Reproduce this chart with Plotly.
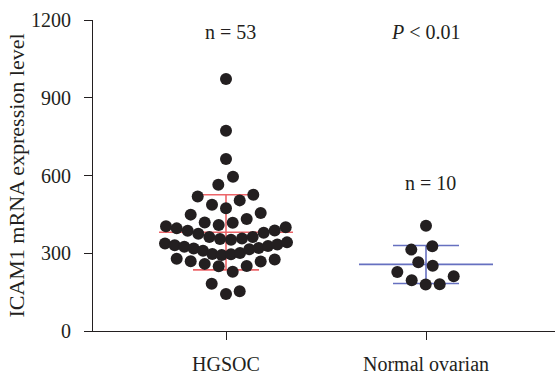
import plotly.graph_objects as go

categories = ["HGSOC", "Normal ovarian"]
hgsoc_values = [972, 773, 664, 595, 564, 519, 526, 487, 474, 504, 449, 455,
                419, 409, 418, 432,
                404, 396, 387, 375, 363, 355, 352, 357, 363, 379, 388, 400,
                338, 331, 325, 318, 310, 297, 293, 296, 301, 315, 320, 328, 334, 342,
                279, 269, 259, 250, 229, 251, 268, 276,
                182, 143, 153]
normal_values = [314, 327, 265, 252, 228, 196, 179, 180, 211, 406]
group_means = [381, 257]
group_upper = [526, 330]
group_lower = [236, 183]
n_labels = ["n = 53", "n = 10"]
p_label = "<i>P</i> < 0.01"
y_ticks = [0, 300, 600, 900, 1200]

# horizontal swarm positions (pixels from group centre, layout only)
hgsoc_dx_px = [0, 0, 0, 7, -7.7, -28.3, 27.3, -14, 0, 13.7, -35.3, 34.7,
               -21.3, -7.3, 6.7, 20.7,
               -60, -49.3, -38.3, -27.7, -16.7, -6, 5, 16, 26.7, 37.7, 48.7, 59.7,
               -61, -51.3, -41.7, -32.3, -23, -13.7, -4.3, 5, 14, 23.3, 32.7, 42, 51.3, 61,
               -49.3, -35.3, -21.3, -7.3, 6.7, 20.7, 34.7, 48.7,
               -14.3, 0, 13.7]
normal_dx_px = [-14.7, 6.3, -7.7, 6.7, -28.7, -14.3, -0.3, 13.7, 27.7, 0]
PX_PER_UNIT = 200.0

dark = "#231f20"
red = "#ec6468"
blue = "#6670c0"
font_family = "Liberation Serif"
FS = 20

fig = go.Figure()

colors = [red, blue]
mean_half = 0.335
cap_half = 0.165
for i in range(2):
    c = colors[i]
    xs = [i - mean_half, i + mean_half, None,
          i - cap_half, i + cap_half, None,
          i - cap_half, i + cap_half, None,
          i, i]
    ys = [group_means[i], group_means[i], None,
          group_upper[i], group_upper[i], None,
          group_lower[i], group_lower[i], None,
          group_lower[i], group_upper[i]]
    fig.add_trace(go.Scatter(x=xs, y=ys, mode="lines",
                             line=dict(color=c, width=1.6),
                             showlegend=False, hoverinfo="skip"))

fig.add_trace(go.Scatter(
    x=[0 + d / PX_PER_UNIT for d in hgsoc_dx_px], y=hgsoc_values,
    mode="markers", marker=dict(color=dark, size=12, line=dict(width=0)),
    showlegend=False, hoverinfo="y"))
fig.add_trace(go.Scatter(
    x=[1 + d / PX_PER_UNIT for d in normal_dx_px], y=normal_values,
    mode="markers", marker=dict(color=dark, size=12, line=dict(width=0)),
    showlegend=False, hoverinfo="y"))

fig.add_annotation(x=0.02, y=1155, text=n_labels[0], showarrow=False,
                   font=dict(family=font_family, size=FS, color=dark))
fig.add_annotation(x=1, y=1155, text=p_label, showarrow=False,
                   font=dict(family=font_family, size=FS, color=dark))
fig.add_annotation(x=1.02, y=572, text=n_labels[1], showarrow=False,
                   font=dict(family=font_family, size=FS, color=dark))

fig.update_layout(
    width=555, height=379,
    margin=dict(l=93, r=0, t=20, b=47.5),
    paper_bgcolor="white", plot_bgcolor="white",
    font=dict(family=font_family, size=FS, color=dark),
    xaxis=dict(range=[-0.665, 1.645], tickmode="array", tickvals=[0, 1],
               ticktext=categories, showgrid=False, zeroline=False,
               showline=True, linecolor=dark, linewidth=1.2,
               ticks="outside", ticklen=8, tickwidth=1.2, tickcolor=dark,
               ticklabelstandoff=7, fixedrange=True, automargin=False,
               tickfont=dict(family=font_family, size=FS, color=dark)),
    yaxis=dict(range=[0, 1200], tickmode="array", tickvals=y_ticks,
               showgrid=False, zeroline=False,
               showline=True, linecolor=dark, linewidth=1.2,
               ticks="outside", ticklen=8, tickwidth=1.2, tickcolor=dark,
               ticklabelstandoff=9, automargin=False,
               title=dict(text="ICAM1 mRNA expression level", standoff=0,
                          font=dict(family=font_family, size=22, color=dark)),
               tickfont=dict(family=font_family, size=FS, color=dark)),
)

fig.write_html("out.html", config={"displayModeBar": False},
               post_script="document.body.style.margin='0px';document.body.style.overflow='hidden';")
